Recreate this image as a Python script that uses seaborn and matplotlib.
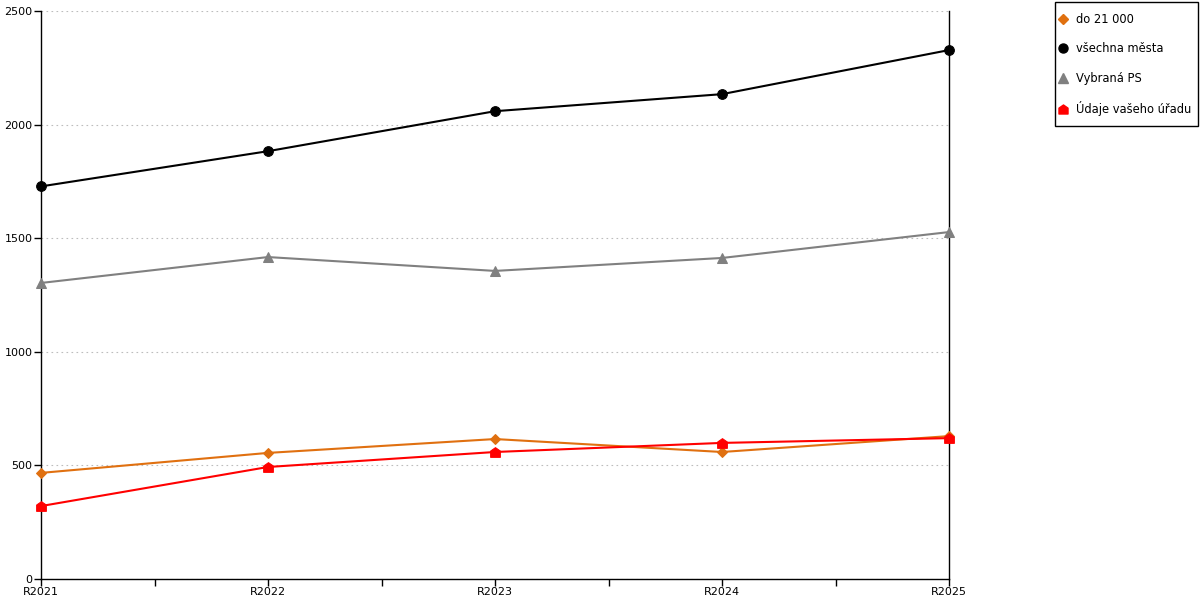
import matplotlib
matplotlib.use("Agg")
import matplotlib.pyplot as plt
import seaborn as sns
from matplotlib.path import Path
from matplotlib.lines import Line2D
from matplotlib.patches import Rectangle

years = ["R2021", "R2022", "R2023", "R2024", "R2025"]
do_21000 = [467, 555, 616, 559, 629]
vsechna_mesta = [1728, 1883, 2059, 2134, 2328]
vybrana_ps = [1303, 1417, 1356, 1413, 1527]
vas_urad = [321, 493, 559, 599, 620]

# house shaped marker for the office series
house = Path([(-1, -1), (1, -1), (1, 0.3), (0, 1), (-1, 0.3), (-1, -1)],
             [Path.MOVETO, Path.LINETO, Path.LINETO, Path.LINETO, Path.LINETO, Path.CLOSEPOLY])

sns.set_style("white")
plt.rcParams['font.family'] = ['DejaVu Sans']
plt.rcParams['text.color'] = 'black'
plt.rcParams['xtick.color'] = 'black'
plt.rcParams['ytick.color'] = 'black'

fig = plt.figure(figsize=(12, 6), dpi=100)
ax = fig.add_axes([41 / 1200, 21 / 600, 908 / 1200, 568 / 600])

xs = list(range(len(years)))
series = [
    ("do 21 000", do_21000, "#e07010", "D", 5.5),
    ("všechna města", vsechna_mesta, "#000000", "o", 7),
    ("Vybraná PS", vybrana_ps, "#808080", "^", 7),
    ("Údaje vašeho úřadu", vas_urad, "#ff0000", house, 7),
]
handles = []
for name, vals, col, mk, ms in series:
    sns.lineplot(x=xs, y=vals, ax=ax, color=col, marker=mk, markersize=ms,
                 markeredgecolor=col, linewidth=1.5, clip_on=False, zorder=3)
    handles.append(Line2D([], [], linestyle="none", marker=mk, markersize=ms - 0.5,
                          color=col, markeredgecolor=col, label=name))

ax.set_xlim(0, 4)
ax.set_ylim(0, 2500)
ax.set_xticks(xs)
ax.set_xticklabels(years)
ax.set_xticks([0.5, 1.5, 2.5, 3.5], minor=True)
ax.set_yticks([0, 500, 1000, 1500, 2000, 2500])
ax.tick_params(axis="both", which="both", direction="out", length=5, width=1,
               color="black", labelsize=8, pad=1, bottom=True, left=True)
ax.yaxis.grid(True, linestyle=(0, (1.5, 3)), color="#bdbdbd", linewidth=0.8)
ax.xaxis.grid(False)
for side in ["left", "bottom", "right"]:
    ax.spines[side].set_visible(True)
    ax.spines[side].set_color("black")
    ax.spines[side].set_linewidth(1)
ax.spines["top"].set_visible(False)
ax.set_xlabel("")
ax.set_ylabel("")

# legend box drawn separately, entries placed inside it
fig.patches.append(Rectangle((1055 / 1200, 1 - 126 / 600), 143 / 1200, 124 / 600,
                             transform=fig.transFigure, fill=False,
                             edgecolor="black", linewidth=1))
fig.legend(handles=handles, loc="upper left", bbox_to_anchor=(1060 / 1200, 1 - 13 / 600),
           frameon=False, fontsize=8.3, handlelength=0.6, handletextpad=0.75,
           labelspacing=1.42, borderpad=0, borderaxespad=0)

fig.savefig("out.png", dpi=100)
